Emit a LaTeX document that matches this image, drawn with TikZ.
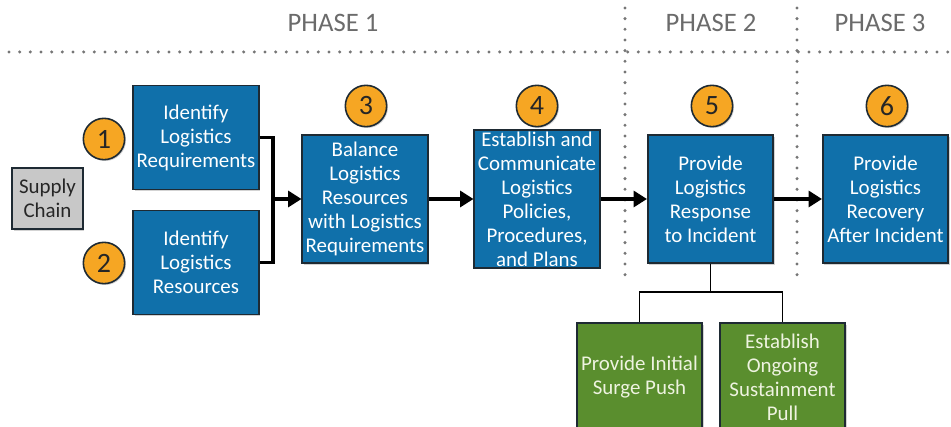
\documentclass[tikz,border=0pt]{standalone}
\usepackage{fontspec}
\setmainfont{Carlito}
\usetikzlibrary{arrows.meta,shadows}
\definecolor{boxblue}{HTML}{1070AA}
\definecolor{numorange}{HTML}{F6A623}
\definecolor{boxgreen}{HTML}{5A8E2E}
\definecolor{boxgray}{HTML}{C8C8C8}
\definecolor{phasegray}{HTML}{6B6B6B}
\definecolor{dotgray}{HTML}{767676}
\definecolor{edgedark}{HTML}{1E2A33}
\definecolor{greentext}{HTML}{EEF3E0}
\tikzset{
  boxbase/.style={draw=edgedark, line width=1.3pt, align=center, inner sep=1pt,
    font=\fontsize{15.7}{18}\selectfont,
    drop shadow={opacity=0.35, shadow xshift=1.2pt, shadow yshift=-1.2pt}},
  bluebox/.style={boxbase, fill=boxblue, text=white, minimum width=94pt, minimum height=96pt},
  smallblue/.style={boxbase, fill=boxblue, text=white, minimum width=94pt, minimum height=78pt},
  greenbox/.style={boxbase, fill=boxgreen, text=greentext, minimum width=94pt, minimum height=81pt},
  graybox/.style={boxbase, fill=boxgray, text=black!85, minimum width=53pt, minimum height=46pt},
  numcircle/.style={circle, draw=edgedark, line width=1.2pt, fill=numorange, minimum size=31pt,
    inner sep=0pt, font=\fontsize{21}{21}\selectfont, text=black!85,
    drop shadow={opacity=0.35, shadow xshift=1pt, shadow yshift=-1pt}},
  flow/.style={line width=2.3pt, -{Triangle[length=10pt,width=12pt]}},
  bracketline/.style={line width=2.3pt},
  treeline/.style={line width=1.3pt},
  dotline/.style={dotgray, line width=2.5pt, line cap=round, dash pattern=on 0pt off 8pt},
  phaselabel/.style={text=phasegray, font=\fontsize{20}{20}\selectfont}
}
\begin{document}
\begin{tikzpicture}[x=0.75pt,y=-0.75pt]
\useasboundingbox (0,0) rectangle (951,427);
\clip (0,0) rectangle (951,427);
% phase labels
\node[phaselabel] (p1) at (333,23) {PHASE 1};
\node[phaselabel] (p2) at (711,23) {PHASE 2};
\node[phaselabel] (p3) at (880,23) {PHASE 3};
% dotted lines
\draw[dotline] (9,52) -- (951,52);
\draw[dotline] (625,8) -- (625,283);
\draw[dotline] (797,8) -- (797,283);
% boxes
\node[graybox] (sc) at (47.5,198.5) {Supply\\Chain};
\node[smallblue] (b1) at (196,137.5) {Identify\\Logistics\\Requirements};
\node[smallblue] (b2) at (196,262.5) {Identify\\Logistics\\Resources};
\node[bluebox] (b3) at (365,199) {Balance\\Logistics\\Resources\\with Logistics\\Requirements};
\node[bluebox] (b4) at (537,199) {Establish and\\Communicate\\Logistics\\Policies,\\Procedures,\\and Plans};
\node[bluebox] (b5) at (710.5,199) {Provide\\Logistics\\Response\\to Incident};
\node[bluebox] (b6) at (885.5,199) {Provide\\Logistics\\Recovery\\After Incident};
\node[greenbox] (g1) at (639.5,377) {Provide Initial\\Surge Push};
\node[greenbox] (g2) at (782.5,377) {Establish\\Ongoing\\Sustainment\\Pull};
% number circles
\node[numcircle] (n1) at (104,139) {1};
\node[numcircle] (n2) at (104,263) {2};
\node[numcircle] (n3) at (366,106) {3};
\node[numcircle] (n4) at (537,106) {4};
\node[numcircle] (n5) at (712,106) {5};
\node[numcircle] (n6) at (887,106) {6};
% connectors
\coordinate (j) at (273,199);
\draw[bracketline] (b1.east) -| (j) |- (b2.east);
\draw[flow] (j) -- (b3.west);
\draw[flow] (b3.east) -- (b4.west);
\draw[flow] (b4.east) -- (b5.west);
\draw[flow] (b5.east) -- (b6.west);
\coordinate (t) at (710.5,292);
\draw[treeline] (b5.south) -- (t);
\draw[treeline] (g1.north) |- (t) -| (g2.north);
\end{tikzpicture}
\end{document}
